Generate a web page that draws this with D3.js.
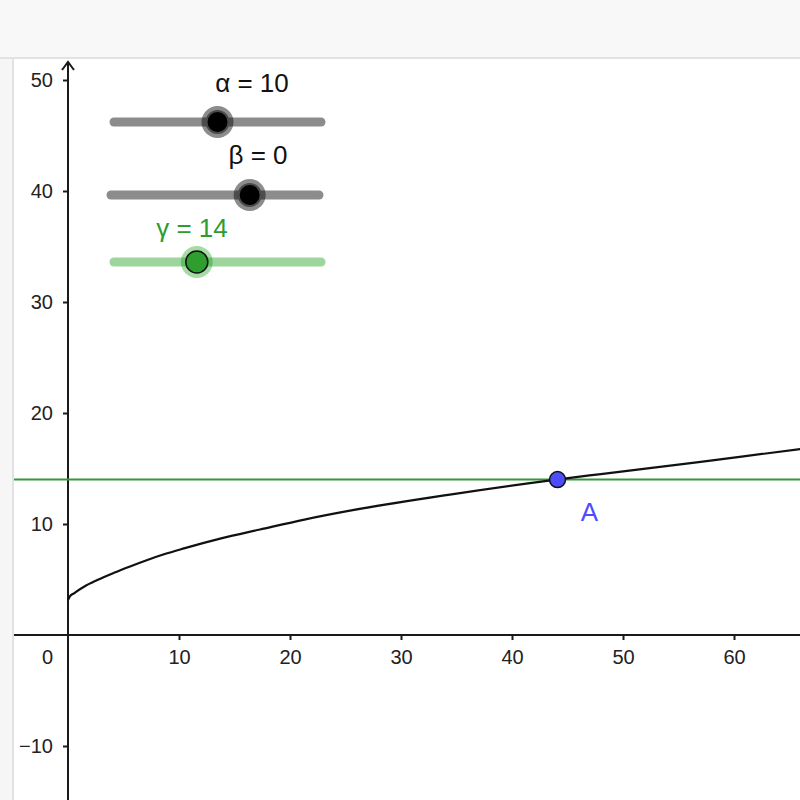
<!DOCTYPE html>
<html>
<head>
<meta charset="utf-8">
<script src="https://cdn.jsdelivr.net/npm/d3@7"></script>
<style>
  html, body { margin: 0; padding: 0; background: #fff; }
  svg { display: block; }
  svg text { font-family: "Liberation Sans", Arial, Helvetica, sans-serif; }
</style>
</head>
<body>
<svg id="chart" width="800" height="800"></svg>
<script>
// curve (x, y)
var curveX = [0, 0.15, 0.54, 1.44, 2.64, 4.14, 5.65, 7.15, 8.65, 10.45, 13.8, 17.3, 21.3, 25.4, 34.4, 44, 48, 57, 66, 67];
var curveY = [3.15, 3.45, 3.76, 4.35, 4.95, 5.6, 6.2, 6.76, 7.27, 7.8, 8.7, 9.5, 10.4, 11.2, 12.65, 14, 14.5, 15.6, 16.75, 16.87];

// sliders
var sliderNames = ["α", "β", "γ"];
var sliderValues = [10, 0, 14];
var sliderMins = [0, -10, 0];
var sliderMaxs = [20, 5, 35];

// horizontal line y = γ and intersection point A
var pointA = { name: "A", x: 44.1, y: 14 };

var xTicks = [10, 20, 30, 40, 50, 60];
var yTicks = [-10, 10, 20, 30, 40, 50];

var svg = d3.select("#chart");
var FONT = "'Liberation Sans', Arial, Helvetica, sans-serif";

// GeoGebra frame: toolbar on top, thin strip at left
svg.append("rect").attr("x", 0).attr("y", 0).attr("width", 800).attr("height", 57).attr("fill", "#f8f8f8");
svg.append("rect").attr("x", 0).attr("y", 57).attr("width", 800).attr("height", 2).attr("fill", "#e2e2e2");
svg.append("rect").attr("x", 0).attr("y", 59).attr("width", 12).attr("height", 741).attr("fill", "#f6f6f6");
svg.append("rect").attr("x", 12).attr("y", 59).attr("width", 2).attr("height", 741).attr("fill", "#e2e2e2");

var padL = 14, padT = 59;
var unit = 11.1, ox = 68, oy = 635;

var x = d3.scaleLinear()
    .domain([(padL - ox) / unit, (800 - ox) / unit])
    .range([padL, 800]);
var y = d3.scaleLinear()
    .domain([(oy - padT) / unit, (oy - 800) / unit])
    .range([padT, 800]);

svg.append("clipPath").attr("id", "clip")
  .append("rect").attr("x", padL).attr("y", padT).attr("width", 800 - padL).attr("height", 800 - padT);

var plot = svg.append("g").attr("clip-path", "url(#clip)");

// axes
var xAxis = plot.append("g")
    .attr("transform", "translate(0," + y(0) + ")")
    .call(d3.axisBottom(x).tickValues(xTicks).tickSizeInner(5).tickSizeOuter(0).tickPadding(10));
var yAxis = plot.append("g")
    .attr("transform", "translate(" + x(0) + ",0)")
    .call(d3.axisLeft(y).tickValues(yTicks).tickSizeInner(5).tickSizeOuter(0).tickPadding(10));

[xAxis, yAxis].forEach(function(a) {
  a.select(".domain").attr("stroke", "#1a1a1a").attr("stroke-width", 2);
  a.selectAll(".tick line").attr("stroke", "#1a1a1a").attr("stroke-width", 2);
  a.selectAll(".tick text").attr("fill", "#222").attr("font-size", 20).attr("font-family", FONT);
});
// y axis line reaches the arrow at the top
yAxis.select(".domain").attr("d", "M0," + (padT + 3) + "V800");
xAxis.select(".domain").attr("d", "M" + padL + ",0H800");

// origin label
plot.append("text")
    .attr("x", x(0) - 15).attr("y", y(0) + 15).attr("dy", "0.71em")
    .attr("text-anchor", "end").attr("font-size", 20).attr("font-family", FONT).attr("fill", "#222")
    .text("0");

// arrow head on y axis
plot.append("path")
    .attr("d", "M" + (x(0) - 6) + "," + (padT + 11) + "L" + x(0) + "," + (padT + 3) + "L" + (x(0) + 6) + "," + (padT + 11))
    .attr("fill", "none").attr("stroke", "#1a1a1a").attr("stroke-width", 2);

// line y = γ
var gamma = sliderValues[2];
plot.append("line")
    .attr("x1", padL).attr("x2", 800)
    .attr("y1", y(gamma)).attr("y2", y(gamma))
    .attr("stroke", "#339933").attr("stroke-width", 2);

// the curve
var pts = curveX.map(function(d, i) { return [d, curveY[i]]; });
var line = d3.line()
    .x(function(d) { return x(d[0]); })
    .y(function(d) { return y(d[1]); })
    .curve(d3.curveMonotoneX);
plot.append("path")
    .datum(pts)
    .attr("d", line)
    .attr("fill", "none").attr("stroke", "#111").attr("stroke-width", 2.2);

// point A
plot.append("circle")
    .attr("cx", x(pointA.x)).attr("cy", y(pointA.y)).attr("r", 8)
    .attr("fill", "#4d4dff").attr("stroke", "#111").attr("stroke-width", 1.5);
plot.append("text")
    .attr("x", x(pointA.x) + 32).attr("y", y(pointA.y) + 41)
    .attr("text-anchor", "middle").attr("font-size", 26).attr("font-family", FONT).attr("fill", "#4d4dff")
    .text(pointA.name);

// sliders (layout in pixels)
var sliderLayout = [
  { x1: 114, x2: 321, y: 122, labelX: 252, labelY: 92, track: "#8c8c8c", halo: "rgba(0,0,0,0.45)", knob: "#000", text: "#111" },
  { x1: 111, x2: 319, y: 195, labelX: 258, labelY: 164, track: "#8c8c8c", halo: "rgba(0,0,0,0.45)", knob: "#000", text: "#111" },
  { x1: 114, x2: 321, y: 262, labelX: 192, labelY: 237, track: "#9cd69c", halo: "rgba(0,153,0,0.35)", knob: "#2e9e2e", text: "#2e9c2e" }
];

sliderNames.forEach(function(name, i) {
  var L = sliderLayout[i];
  var s = d3.scaleLinear().domain([sliderMins[i], sliderMaxs[i]]).range([L.x1, L.x2]);
  var g = svg.append("g");
  g.append("line")
      .attr("x1", L.x1).attr("x2", L.x2).attr("y1", L.y).attr("y2", L.y)
      .attr("stroke", L.track).attr("stroke-width", 9).attr("stroke-linecap", "round");
  var kx = s(sliderValues[i]);
  g.append("circle").attr("cx", kx).attr("cy", L.y).attr("r", 16).attr("fill", L.halo);
  g.append("circle").attr("cx", kx).attr("cy", L.y).attr("r", 11)
      .attr("fill", L.knob)
      .attr("stroke", i < 2 ? "#4a4a4a" : "#111").attr("stroke-width", i < 2 ? 2 : 1.5);
  g.append("text")
      .attr("x", L.labelX).attr("y", L.labelY)
      .attr("text-anchor", "middle").attr("font-size", 26).attr("font-family", FONT).attr("fill", L.text)
      .text(name + " = " + sliderValues[i]);
});
</script>
</body>
</html>
